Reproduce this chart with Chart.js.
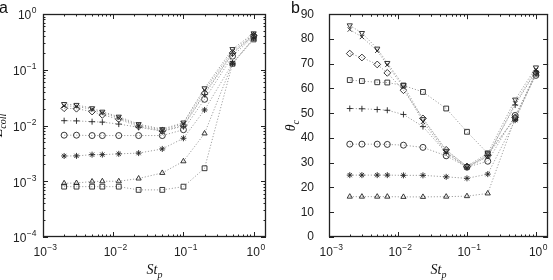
<!DOCTYPE html>
<html>
<head>
<meta charset="utf-8">
<script src="https://cdn.jsdelivr.net/npm/chart.js@4"></script>
<style>
body { margin: 0; background: #fff; width: 553px; height: 280px; overflow: hidden; position: relative; }
canvas { position: absolute; top: 0; }
#chartA { left: 0; }
#chartB { left: 276px; }
</style>
</head>
<body>
<canvas id="chartA" width="276" height="280"></canvas>
<canvas id="chartB" width="277" height="280"></canvas>
<script>
// Stokes numbers (shared x values)
const stokes = [0.002, 0.003, 0.005, 0.007, 0.012, 0.023, 0.05, 0.1, 0.2, 0.5, 1.0];

// panel a: collision efficiency
const collDown    = [0.0243, 0.0234, 0.0204, 0.0177, 0.0144, 0.0106, 0.0086, 0.0113, 0.0465, 0.235, 0.45];
const collCross   = [0.0225, 0.0220, 0.0195, 0.0168, 0.0138, 0.0101, 0.0083, 0.0108, 0.0430, 0.215, 0.43];
const collDiamond = [0.0204, 0.0200, 0.0178, 0.0155, 0.0130, 0.0096, 0.0080, 0.0100, 0.0380, 0.200, 0.41];
const collPlus    = [0.0122, 0.0121, 0.0117, 0.0115, 0.0106, 0.0093, 0.0079, 0.0097, 0.0360, 0.195, 0.42];
const collCircle  = [0.0067, 0.0067, 0.0066, 0.0066, 0.0066, 0.0066, 0.0066, 0.0084, 0.0295, 0.175, 0.40];
const collStar    = [0.00284, 0.00285, 0.0030, 0.0030, 0.0031, 0.0032, 0.0038, 0.0059, 0.0190, 0.130, 0.37];
const collUp      = [0.00092, 0.00093, 0.00099, 0.00100, 0.00100, 0.00112, 0.00141, 0.00228, 0.0072, 0.130, 0.36];
const collSquare  = [0.00080, 0.00080, 0.00080, 0.00080, 0.00080, 0.00070, 0.00070, 0.00080, 0.00171, 0.128, 0.35];

// panel b: critical angle
const thetaDown    = [85.5, 82.4, 76.1, 70.3, 61.3, 47.6, 34.8, 28.6, 33.8, 55.5, 68.5];
const thetaCross   = [83.8, 80.8, 75.2, 69.5, 60.5, 46.5, 34.2, 28.0, 32.5, 54.0, 67.5];
const thetaDiamond = [74.1, 72.5, 69.7, 66.3, 59.3, 47.9, 35.2, 28.5, 33.0, 48.3, 66.5];
const thetaSquare  = [63.4, 63.0, 62.5, 62.4, 61.2, 58.6, 51.9, 42.5, 33.8, 47.8, 66.0];
const thetaPlus    = [51.9, 51.8, 51.5, 51.2, 49.5, 44.6, 34.0, 28.2, 32.8, 53.3, 67.0];
const thetaCircle  = [37.5, 37.5, 37.5, 37.4, 37.1, 36.2, 32.8, 28.2, 30.6, 49.1, 65.3];
const thetaStar    = [25.0, 25.0, 25.0, 25.0, 24.9, 24.9, 24.3, 23.7, 25.4, 47.2, 66.0];
const thetaUp      = [16.3, 16.3, 16.3, 16.3, 16.2, 16.2, 16.3, 16.5, 17.6, 48.0, 66.5];

const markers = [
    { style: 'triangle', rotation: 180 }, // down triangle
    { style: 'crossRot', rotation: 0 },
    { style: 'rectRot', rotation: 0 },
    { style: 'cross', rotation: 0 },
    { style: 'circle', rotation: 0 },
    { style: 'star', rotation: 0 },
    { style: 'triangle', rotation: 0 },
    { style: 'rect', rotation: 0 }
];

const seriesA = [collDown, collCross, collDiamond, collPlus, collCircle, collStar, collUp, collSquare];
const seriesB = [thetaDown, thetaCross, thetaDiamond, thetaPlus, thetaCircle, thetaStar, thetaUp, thetaSquare];

const SANS = '"Liberation Sans", Arial, sans-serif';
const SERIF = '"Liberation Serif", "Times New Roman", serif';

function makeDatasets(series) {
    return series.map((vals, i) => ({
        data: vals.map((v, j) => ({ x: stokes[j], y: v })),
        borderColor: '#a0a0a0',
        borderWidth: 1,
        borderDash: [1.2, 1.8],
        fill: false,
        tension: 0,
        pointStyle: markers[i].style,
        rotation: markers[i].rotation,
        pointRadius: markers[i].style === 'rect' || markers[i].style === 'rectRot' ? 3.4 : 3,
        pointBorderWidth: 0.9,
        pointBorderColor: '#222',
        pointBackgroundColor: 'rgba(255,255,255,0)'
    }));
}

function logTickValues(min, max) {
    const out = [];
    for (let e = Math.floor(Math.log10(min)); e <= Math.ceil(Math.log10(max)); e++) {
        for (let m = 1; m <= 9; m++) {
            const v = m * Math.pow(10, e);
            if (v >= min * 0.9999 && v <= max * 1.0001) out.push({ v, major: m === 1 });
        }
    }
    return out;
}

function drawPow(ctx, exp, x, y, align) {
    const base = '10';
    const ex = exp < 0 ? '\u2212' + (-exp) : String(exp);
    ctx.font = '12px ' + SANS;
    const wb = ctx.measureText(base).width;
    ctx.font = '8.5px ' + SANS;
    const we = ctx.measureText(ex).width;
    const x0 = align === 'right' ? x - wb - we : x - (wb + we) / 2;
    ctx.textAlign = 'left';
    ctx.textBaseline = 'middle';
    ctx.font = '12px ' + SANS;
    ctx.fillText(base, x0, y);
    ctx.font = '8.5px ' + SANS;
    ctx.fillText(ex, x0 + wb + 0.5, y - 5);
}

function subText(ctx, main, sub, x, y, mainSize, subSize) {
    ctx.font = 'italic ' + mainSize + 'px ' + SERIF;
    const wm = ctx.measureText(main).width;
    ctx.font = 'italic ' + subSize + 'px ' + SERIF;
    const ws = ctx.measureText(sub).width;
    const x0 = x - (wm + ws) / 2;
    ctx.textAlign = 'left';
    ctx.textBaseline = 'alphabetic';
    ctx.font = 'italic ' + mainSize + 'px ' + SERIF;
    ctx.fillText(main, x0, y);
    ctx.font = 'italic ' + subSize + 'px ' + SERIF;
    ctx.fillText(sub, x0 + wm, y + 3.5);
}

const framePlugin = {
    id: 'frame',
    afterDraw(chart, args, opts) {
        const { ctx, chartArea: a, scales } = chart;
        ctx.save();
        ctx.strokeStyle = '#222';
        ctx.lineWidth = 1;
        const seg = (x1, y1, x2, y2) => { ctx.beginPath(); ctx.moveTo(x1, y1); ctx.lineTo(x2, y2); ctx.stroke(); };

        // x ticks, bottom and top, pointing inward
        const xs = scales.x;
        logTickValues(xs.min, xs.max).forEach(t => {
            const px = Math.round(xs.getPixelForValue(t.v)) + 0.5;
            const len = t.major ? 5 : 2.5;
            seg(px, a.bottom, px, a.bottom - len);
            seg(px, a.top, px, a.top + len);
        });
        // y ticks, left and right
        const ys = scales.y;
        const yt = ys.type === 'logarithmic'
            ? logTickValues(ys.min, ys.max)
            : ys.ticks.map(t => ({ v: t.value, major: true }));
        yt.forEach(t => {
            const py = Math.round(ys.getPixelForValue(t.v)) + 0.5;
            const len = t.major ? 5 : 2.5;
            seg(a.left, py, a.left + len, py);
            seg(a.right, py, a.right - len, py);
        });

        ctx.lineWidth = 1.3;
        ctx.strokeRect(Math.round(a.left) + 0.5, Math.round(a.top) + 0.5,
            Math.round(a.right - a.left) - 1, Math.round(a.bottom - a.top) - 1);

        // power-of-ten labels
        ctx.fillStyle = '#222';
        for (let e = Math.ceil(Math.log10(xs.min) - 1e-9); e <= Math.floor(Math.log10(xs.max) + 1e-9); e++) {
            drawPow(ctx, e, xs.getPixelForValue(Math.pow(10, e)) + 2, a.bottom + 16, 'center');
        }
        if (ys.type === 'logarithmic') {
            for (let e = Math.ceil(Math.log10(ys.min) - 1e-9); e <= Math.floor(Math.log10(ys.max) + 1e-9); e++) {
                drawPow(ctx, e, a.left - 7, ys.getPixelForValue(Math.pow(10, e)) + 2, 'right');
            }
        }

        // panel letter
        ctx.fillStyle = '#111';
        ctx.font = '16px ' + SANS;
        ctx.textAlign = 'left';
        ctx.textBaseline = 'alphabetic';
        ctx.fillText(opts.letter, opts.letterX, 13);

        // x title
        subText(ctx, 'St', 'p', (a.left + a.right) / 2, 274, 14, 10);

        // y title, rotated
        ctx.save();
        ctx.translate(opts.yTitleX, (a.top + a.bottom) / 2);
        ctx.rotate(-Math.PI / 2);
        subText(ctx, opts.yMain, opts.ySub, 0, 0, 14, 10);
        ctx.restore();

        ctx.restore();
    }
};

function axisX() {
    return {
        type: 'logarithmic', min: 1e-3, max: 1.5,
        grid: { display: false }, border: { display: false },
        ticks: { display: false },
        afterFit: s => { s.height = 43; }
    };
}

new Chart(document.getElementById('chartA'), {
    type: 'line',
    data: { datasets: makeDatasets(seriesA) },
    plugins: [framePlugin],
    options: {
        responsive: false,
        animation: false,
        layout: { padding: { top: 14, right: 10, left: 0, bottom: 0 } },
        plugins: {
            legend: { display: false },
            tooltip: { enabled: false },
            frame: { letter: 'a', letterX: -1, yMain: 'E', ySub: 'coll', yTitleX: 2 }
        },
        scales: {
            x: axisX(),
            y: {
                type: 'logarithmic', min: 1e-4, max: 1,
                grid: { display: false }, border: { display: false },
                ticks: { display: false },
                afterFit: s => { s.width = 43; }
            }
        }
    }
});

new Chart(document.getElementById('chartB'), {
    type: 'line',
    data: { datasets: makeDatasets(seriesB) },
    plugins: [framePlugin],
    options: {
        responsive: false,
        animation: false,
        layout: { padding: { top: 14, right: 1, left: 0, bottom: 0 } },
        plugins: {
            legend: { display: false },
            tooltip: { enabled: false },
            frame: { letter: 'b', letterX: 15, yMain: '\u03b8', ySub: 'c', yTitleX: 19 }
        },
        scales: {
            x: axisX(),
            y: {
                type: 'linear', min: 0, max: 90,
                grid: { display: false }, border: { display: false },
                ticks: { stepSize: 10, color: '#222', padding: 7, font: { size: 12, family: SANS } },
                afterFit: s => { s.width = 53; }
            }
        }
    }
});
</script>
</body>
</html>
